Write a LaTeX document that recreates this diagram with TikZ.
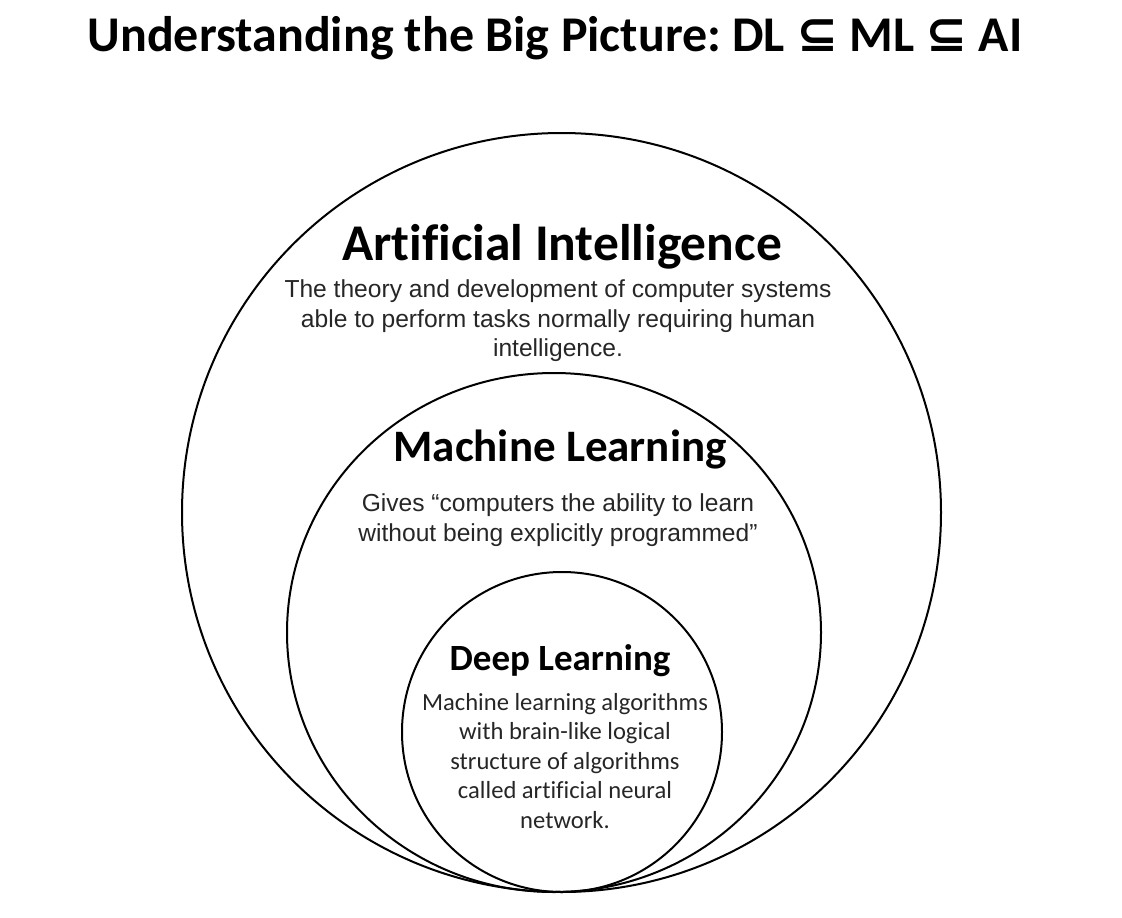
\documentclass[tikz,border=0pt]{standalone}
\usepackage{fontspec}
\setmainfont[Ligatures=NoCommon]{Carlito}
\newfontfamily\arialfont{Liberation Sans}
\newfontfamily\symfont{DejaVu Sans}
\usepackage{tikz}
\frenchspacing
\tikzstyle{ring} = [line width=2pt]
\tikzstyle{head} = [font=\bfseries, inner sep=0pt]
\tikzstyle{desc} = [align=center, inner sep=0pt, text=black!85]
\newcommand{\subeq}{{\symfont ⊆}}

\begin{document}
\begin{tikzpicture}[x=1pt,y=-1pt]
			\useasboundingbox (0,0) rectangle (1122,918);
			\draw[ring] (561.5,512.5) circle[radius=379.5];
			\draw[ring] (554,632.5) ellipse[x radius=267, y radius=259.5];
			\draw[ring] (562,732) circle[radius=160];
			\node[head, font=\bfseries\fontsize{50}{54}\selectfont] (title) at (555,38) {Understanding the Big Picture: DL \subeq{} ML \subeq{} AI};
			\node[head, font=\bfseries\fontsize{51.5}{55}\selectfont] (ai) at (562,247) {Artificial Intelligence};
			\node[desc, font=\arialfont\fontsize{24.6}{29.5}\selectfont] (aitext) at (558,321) {The theory and development of computer systems\\able to perform tasks normally requiring human\\intelligence.};
			\node[head, font=\bfseries\fontsize{45}{49}\selectfont] (ml) at (560,450) {Machine Learning};
			\node[desc, font=\arialfont\fontsize{24.6}{29.5}\selectfont] (mltext) at (558,520) {Gives “computers the ability to learn\\without being explicitly programmed”};
			\node[head, font=\bfseries\fontsize{37}{41}\selectfont] (dl) at (560,661) {Deep Learning};
			\node[desc, font=\fontsize{24.6}{29.5}\selectfont] (dltext) at (565,761) {Machine learning algorithms\\with brain-like logical\\structure of algorithms\\called artificial neural\\network.};
		\end{tikzpicture}
\end{document}
